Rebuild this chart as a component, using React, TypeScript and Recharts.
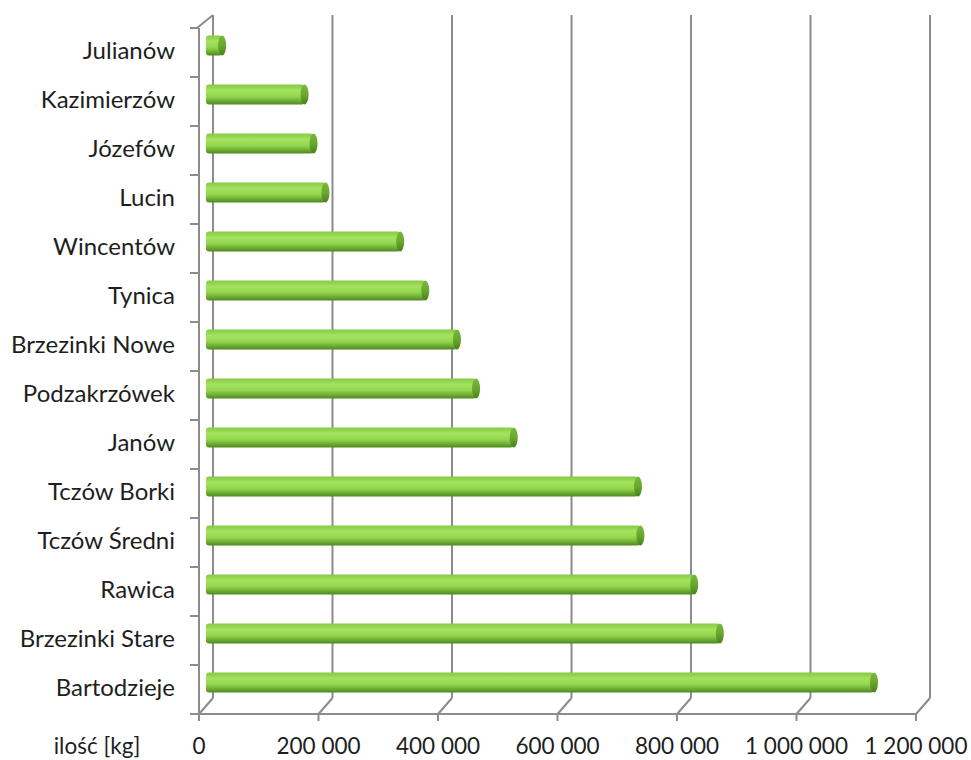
import { BarChart, Bar, XAxis, YAxis, CartesianGrid, Label } from "recharts";

const places = [
  "Julianów", "Kazimierzów", "Józefów", "Lucin", "Wincentów", "Tynica", "Brzezinki Nowe",
  "Podzakrzówek", "Janów", "Tczów Borki", "Tczów Średni", "Rawica", "Brzezinki Stare", "Bartodzieje",
];
const amounts = [
  27000, 165000, 180000, 200000, 325000, 367000, 420000,
  452000, 515000, 723000, 727000, 817000, 860000, 1118000,
];
const xTicks = [0, 200000, 400000, 600000, 800000, 1000000, 1200000];

const data = places.map((name, i) => ({ name, value: amounts[i] }));

const DX = 14; // depth offset of back wall
const DY = -16;
const AXIS = "#8c8c8c";
const FONT = "Lato, 'Open Sans', sans-serif";
const INK = "#1e1e1e";

const fmt = (v: number) => v.toLocaleString("en-US").replace(/,/g, " ");

// eslint-disable-next-line @typescript-eslint/no-explicit-any
function GridLine(props: any) {
  const { x1, y1, y2, index } = props;
  return (
    <g>
      <line x1={x1 + DX} y1={y1 + DY + 3} x2={x1 + DX} y2={y2 + DY} stroke={AXIS} strokeWidth={2} />
      <line x1={x1} y1={y2} x2={x1 + DX} y2={y2 + DY} stroke={AXIS} strokeWidth={2} />
      {index === 0 && <line x1={x1 - 2} y1={y1} x2={x1 + DX} y2={y1 + DY + 3} stroke={AXIS} strokeWidth={2} />}
    </g>
  );
}

// eslint-disable-next-line @typescript-eslint/no-explicit-any
function RowTick(props: any) {
  const { x1, y1 } = props;
  return <line x1={x1 - 9} y1={y1} x2={x1} y2={y1} stroke={AXIS} strokeWidth={2} />;
}

// eslint-disable-next-line @typescript-eslint/no-explicit-any
function Cylinder(props: any) {
  const { x, y, width, height } = props;
  const bx = x + 7;
  const by = y + height / 2 - 7 - 10;
  const h = 20;
  return (
    <g>
      <rect x={bx} y={by} width={Math.max(width, 0)} height={h} rx={3} fill="url(#cyl)" />
      <ellipse cx={bx + width} cy={by + h / 2} rx={4} ry={h / 2} fill="url(#cap)" />
    </g>
  );
}

// eslint-disable-next-line @typescript-eslint/no-explicit-any
function CatTick(props: any) {
  const { y, payload } = props;
  return (
    <text x={175} y={y - 3} textAnchor="end" dominantBaseline="central" fontSize={24} fontFamily={FONT} fill={INK}>
      {payload.value}
    </text>
  );
}

// eslint-disable-next-line @typescript-eslint/no-explicit-any
function ValTick(props: any) {
  const { x, payload } = props;
  return (
    <text x={x} y={745} textAnchor="middle" dominantBaseline="central" fontSize={22.5} fontFamily={FONT} fill={INK}>
      {fmt(payload.value)}
    </text>
  );
}

export default function App() {
  return (
    <div style={{ position: "absolute", left: 0, top: 0, background: "#fff" }}>
      <BarChart
        width={971}
        height={760}
        data={data}
        layout="vertical"
        margin={{ top: 28, right: 55, bottom: 0, left: 0 }}
        barCategoryGap={0}
      >
        <defs>
          <linearGradient id="cyl" x1="0" y1="0" x2="0" y2="1">
            <stop offset="0%" stopColor="#86c943" />
            <stop offset="30%" stopColor="#a3e35f" />
            <stop offset="60%" stopColor="#92d64e" />
            <stop offset="100%" stopColor="#4f8a1e" />
          </linearGradient>
          <linearGradient id="cap" x1="0" y1="0" x2="0" y2="1">
            <stop offset="0%" stopColor="#78b83a" />
            <stop offset="50%" stopColor="#6aa82e" />
            <stop offset="100%" stopColor="#4a7f1c" />
          </linearGradient>
        </defs>
        <CartesianGrid
          horizontal={RowTick}
          vertical={GridLine}
          // eslint-disable-next-line @typescript-eslint/no-explicit-any
          horizontalCoordinatesGenerator={({ offset }: any) =>
            places.map((_, i) => offset.top + (i * offset.height) / places.length).concat(offset.top + offset.height)
          }
        />
        <XAxis
          type="number"
          domain={[0, 1200000]}
          ticks={xTicks}
          height={46}
          stroke={AXIS}
          strokeWidth={2}
          tickSize={7}
          tick={<ValTick />}
          interval={0}
        >
          <Label
            // eslint-disable-next-line @typescript-eslint/no-explicit-any
            content={({ viewBox }: any) => (
              <text x={viewBox.x - 102} y={745} textAnchor="middle" dominantBaseline="central" fontSize={22.5} fontFamily={FONT} fill={INK}>
                ilość [kg]
              </text>
            )}
          />
        </XAxis>
        <YAxis
          type="category"
          dataKey="name"
          width={199}
          stroke={AXIS}
          strokeWidth={2}
          tickLine={false}
          tick={<CatTick />}
          interval={0}
        />
        <Bar dataKey="value" shape={<Cylinder />} isAnimationActive={false} />
      </BarChart>
    </div>
  );
}
